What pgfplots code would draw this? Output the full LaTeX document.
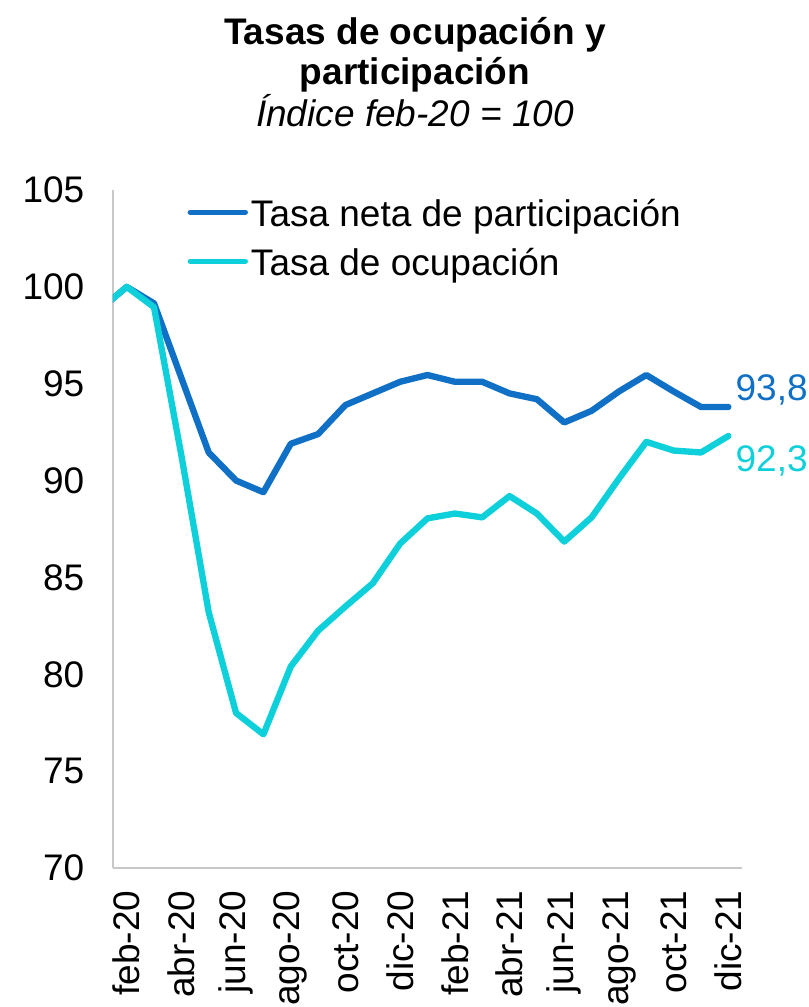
\documentclass[border=0pt]{standalone}
\usepackage{fontspec}
\setmainfont{Liberation Sans}
\usepackage{pgfplots}
\pgfplotsset{compat=1.18}
\definecolor{cblue}{RGB}{16,112,198}
\definecolor{ccyan}{RGB}{14,208,218}
\definecolor{agray}{RGB}{200,200,200}
\begin{document}
\fontsize{11.1}{13.3}\selectfont
\begin{tikzpicture}
\useasboundingbox (-33.9pt,-41.7pt) rectangle (208.8pt,260.4pt);
\begin{axis}[
  at={(0pt,0pt)}, anchor=south west,
  scale only axis, width=188.7pt, height=203.4pt,
  xmin=-0.5, xmax=22.5, ymin=70, ymax=105,
  axis lines=left,
  axis line style={-, agray, line width=0.6pt},
  xtick={0,2,...,22},
  xticklabels={feb-20,abr-20,jun-20,ago-20,oct-20,dic-20,feb-21,abr-21,jun-21,ago-21,oct-21,dic-21},
  ytick={70,75,...,105},
  major tick length=0pt,
  /pgf/number format/assume math mode=true,
  tick label style={font=\fontsize{11.1}{13.3}\selectfont, inner sep=0pt},
  x tick label style={rotate=90, anchor=east},
  y tick label style={anchor=east},
  xticklabel shift=6.6pt,
  yticklabel shift=8.4pt,
  legend style={at={(0.1176,0.987)}, anchor=north west, draw=none, fill=none,
    inner sep=0pt, row sep=4.9pt, column sep=0.9pt,
    nodes={inner sep=0pt}, font=\fontsize{11.1}{13.3}\selectfont},
  legend cell align=left,
  legend image code/.code={\draw[#1, line width=1.6pt] (0pt,1.1pt) -- (16.5pt,1.1pt);},
  every axis plot/.append style={line width=1.9pt, line cap=round, line join=round},
]
\addplot[cblue] coordinates {
(-1,98.8) (0,100.0) (1,99.15) (2,95.3) (3,91.45) (4,90.0) (5,89.4) (6,91.9)
(7,92.4) (8,93.9) (9,94.5) (10,95.1) (11,95.45) (12,95.1) (13,95.1) (14,94.5)
(15,94.2) (16,93.0) (17,93.6) (18,94.6) (19,95.45) (20,94.6) (21,93.8) (22,93.8)
};
\addlegendentry{Tasa neta de participación}
\addplot[ccyan] coordinates {
(-1,98.8) (0,100.0) (1,98.95) (2,91.3) (3,83.2) (4,78.0) (5,76.9) (6,80.4)
(7,82.25) (8,83.5) (9,84.7) (10,86.75) (11,88.05) (12,88.3) (13,88.1) (14,89.2)
(15,88.3) (16,86.85) (17,88.1) (18,90.1) (19,92.0) (20,91.55) (21,91.45) (22,92.3)
};
\addlegendentry{Tasa de ocupación}
\coordinate (pb) at (axis cs:22,93.8);
\coordinate (pc) at (axis cs:22,92.3);
\end{axis}
\node[anchor=west, inner sep=0pt, text=cblue, xshift=2pt, yshift=5pt] at (pb) {93,8};
\node[anchor=west, inner sep=0pt, text=ccyan, xshift=2pt, yshift=-7.5pt] at (pc) {92,3};
\node[anchor=base, font=\bfseries] at (90.6pt,246.9pt) {Tasas de ocupación y};
\node[anchor=base, font=\bfseries] at (90.6pt,234.9pt) {participación};
\node[anchor=base, font=\itshape] at (90.6pt,222.3pt) {Índice feb-20 = 100};
\end{tikzpicture}
\end{document}
